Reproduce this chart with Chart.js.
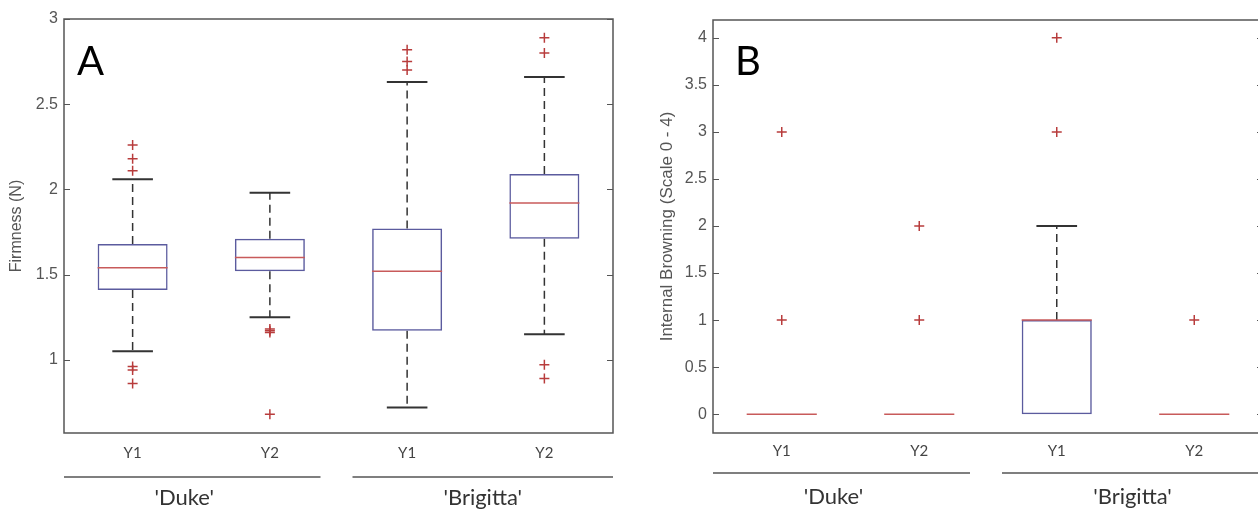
<!DOCTYPE html>
<html lang="en">
<head>
<meta charset="UTF-8">
<script src="https://cdn.jsdelivr.net/npm/chart.js"></script>
<title>Firmness and internal browning</title>
<style>
    html, body { margin: 0; padding: 0; background: #fff; overflow: hidden; }
    .panel { position: absolute; top: 0; width: 640px; height: 511px; }
    #panelA { left: 0; }
    #panelB { left: 640px; }
</style>
</head>
<body>
<div class="panel" id="panelA"><canvas id="chartA"></canvas></div>
<div class="panel" id="panelB"><canvas id="chartB"></canvas></div>
<script>
    const categories = ['Duke Y1', 'Duke Y2', 'Brigitta Y1', 'Brigitta Y2'];
    const yearLabels = ['Y1', 'Y2', 'Y1', 'Y2'];
    const cultivars = ["'Duke'", "'Brigitta'"];

    // A: firmness (N)
    const firmQ1 = [1.41, 1.52, 1.17, 1.71];
    const firmMedian = [1.54, 1.60, 1.52, 1.92];
    const firmQ3 = [1.68, 1.71, 1.77, 2.09];
    const firmLow = [1.05, 1.25, 0.72, 1.15];
    const firmHigh = [2.06, 1.98, 2.63, 2.66];
    const firmOutliers = [
        [2.26, 2.18, 2.11, 0.96, 0.94, 0.86],
        [1.18, 1.17, 1.16, 0.68],
        [2.82, 2.75, 2.70],
        [2.89, 2.80, 0.97, 0.89]
    ];
    const firmTicks = [1, 1.5, 2, 2.5, 3];

    // B: internal browning (scale 0 - 4)
    const brownQ1 = [0, 0, 0, 0];
    const brownMedian = [0, 0, 1, 0];
    const brownQ3 = [0, 0, 1, 0];
    const brownLow = [0, 0, 0, 0];
    const brownHigh = [0, 0, 2, 0];
    const brownOutliers = [[3, 1], [2, 1], [4, 3], [1]];
    const brownTicks = [0, 0.5, 1, 1.5, 2, 2.5, 3, 3.5, 4];

    const boxColor = '#5b5b9e';
    const medianColor = '#c85a5a';
    const outlierColor = '#b83c3c';
    const whiskerColor = '#333';
    const axisColor = '#555';

    function boxChart(id, s) {
        const outliers = [];
        s.outliers.forEach((vals, i) => vals.forEach(v => outliers.push({ x: categories[i], y: v })));

        const boxParts = {
            id: 'boxParts',
            beforeDatasetsDraw(chart) {
                const c = chart.ctx, x = chart.scales.x, y = chart.scales.y;
                const bars = chart.getDatasetMeta(0).data;
                c.save();
                categories.forEach((cat, i) => {
                    const px = x.getPixelForValue(i);
                    const half = bars[i].width * 0.29;
                    const ends = [];
                    c.strokeStyle = whiskerColor;
                    c.lineWidth = 1.5;
                    c.setLineDash([8, 5]);
                    c.beginPath();
                    if (s.high[i] > s.q3[i]) {
                        c.moveTo(px, y.getPixelForValue(s.q3[i]));
                        c.lineTo(px, y.getPixelForValue(s.high[i]));
                        ends.push(s.high[i]);
                    }
                    if (s.low[i] < s.q1[i]) {
                        c.moveTo(px, y.getPixelForValue(s.q1[i]));
                        c.lineTo(px, y.getPixelForValue(s.low[i]));
                        ends.push(s.low[i]);
                    }
                    c.stroke();
                    // whisker caps (hidden under the box when the whisker has no length)
                    c.setLineDash([]);
                    c.lineWidth = 2;
                    c.beginPath();
                    ends.forEach(v => {
                        const py = y.getPixelForValue(v);
                        c.moveTo(px - half, py);
                        c.lineTo(px + half, py);
                    });
                    c.stroke();
                });
                c.restore();
            },
            afterDatasetsDraw(chart) {
                const c = chart.ctx, x = chart.scales.x, y = chart.scales.y;
                const bars = chart.getDatasetMeta(0).data;
                c.save();
                c.strokeStyle = medianColor;
                c.lineWidth = 1.5;
                categories.forEach((cat, i) => {
                    const px = x.getPixelForValue(i);
                    const half = bars[i].width / 2;
                    const py = y.getPixelForValue(s.median[i]);
                    c.beginPath();
                    c.moveTo(px - half, py);
                    c.lineTo(px + half, py);
                    c.stroke();
                });
                c.restore();
            },
            afterDraw(chart) {
                const c = chart.ctx, x = chart.scales.x, y = chart.scales.y;
                const a = chart.chartArea;
                c.save();
                // frame and inward ticks
                c.strokeStyle = axisColor;
                c.lineWidth = 1.5;
                c.strokeRect(a.left, a.top, a.right - a.left, a.bottom - a.top);
                c.lineWidth = 1.2;
                c.beginPath();
                y.ticks.forEach(t => {
                    const py = Math.round(y.getPixelForValue(t.value)) + 0.5;
                    c.moveTo(a.left, py); c.lineTo(a.left + 6, py);
                    c.moveTo(a.right - 6, py); c.lineTo(a.right, py);
                });
                c.stroke();

                // cultivar lines and names
                const mid = (x.getPixelForValue(1) + x.getPixelForValue(2)) / 2;
                const spans = [[a.left, mid - 18], [mid + 14, a.right]];
                c.strokeStyle = '#555';
                c.lineWidth = 1.5;
                c.fillStyle = '#333';
                c.font = '22px Lato';
                c.textAlign = 'center';
                c.textBaseline = 'middle';
                spans.forEach((sp, g) => {
                    const ly = a.bottom + s.groupLine;
                    c.beginPath();
                    c.moveTo(sp[0], ly); c.lineTo(sp[1], ly);
                    c.stroke();
                    const shift = g === 0 ? -8 : 0;
                    c.fillText(cultivars[g], (sp[0] + sp[1]) / 2 + shift, a.bottom + s.groupText);
                });

                // panel letter
                c.fillStyle = '#000';
                c.font = '40px Lato';
                c.textAlign = 'left';
                c.textBaseline = 'alphabetic';
                c.fillText(s.letter, a.left + s.letterX, a.top + s.letterY);
                c.restore();
            }
        };

        return new Chart(document.getElementById(id), {
            type: 'bar',
            data: {
                labels: categories,
                datasets: [{
                    label: 'Box',
                    data: s.q1.map((v, i) => [v, s.q3[i]]),
                    backgroundColor: 'rgba(0,0,0,0)',
                    borderColor: boxColor,
                    borderWidth: 1.5,
                    borderSkipped: false,
                    barPercentage: 0.51,
                    categoryPercentage: 1
                }, {
                    type: 'scatter',
                    label: 'Outliers',
                    data: outliers,
                    pointStyle: 'cross',
                    pointRadius: 5,
                    borderColor: outlierColor,
                    borderWidth: 1.5
                }]
            },
            options: {
                responsive: true,
                maintainAspectRatio: false,
                animation: false,
                layout: { padding: s.padding },
                plugins: { legend: { display: false }, tooltip: { enabled: false } },
                scales: {
                    x: {
                        type: 'category',
                        offset: true,
                        grid: { display: false, drawTicks: false },
                        border: { display: false },
                        ticks: {
                            padding: s.xTickPad,
                            color: '#444',
                            font: { family: 'Lato', size: 15 },
                            callback: (v, i) => yearLabels[i]
                        },
                        afterFit: scale => { scale.height = s.xHeight; }
                    },
                    y: {
                        min: s.min,
                        max: s.max,
                        grid: { display: false, drawTicks: false },
                        border: { display: false },
                        afterBuildTicks: scale => { scale.ticks = s.ticks.map(v => ({ value: v })); },
                        ticks: {
                            padding: 6,
                            color: axisColor,
                            font: { family: 'Liberation Sans', size: 16 },
                            callback: v => String(v)
                        },
                        title: {
                            display: true,
                            text: s.title,
                            color: axisColor,
                            padding: { top: s.titlePad, bottom: 0 },
                            font: { family: 'Liberation Sans', size: s.titleSize }
                        },
                        afterFit: scale => { scale.width = s.yWidth; }
                    }
                }
            },
            plugins: [boxParts]
        });
    }

    boxChart('chartA', {
        q1: firmQ1, median: firmMedian, q3: firmQ3, low: firmLow, high: firmHigh,
        outliers: firmOutliers, ticks: firmTicks, min: 0.57, max: 3,
        title: 'Firmness (N)', letter: 'A', titleSize: 16,
        padding: { left: 0, top: 19, right: 27, bottom: 0 },
        yWidth: 64, xHeight: 78, xTickPad: 11, titlePad: 7,
        groupLine: 44, groupText: 65, letterX: 13, letterY: 56
    });

    boxChart('chartB', {
        q1: brownQ1, median: brownMedian, q3: brownQ3, low: brownLow, high: brownHigh,
        outliers: brownOutliers, ticks: brownTicks, min: -0.2, max: 4.19,
        title: 'Internal Browning (Scale 0 - 4)', letter: 'B', titleSize: 17,
        padding: { left: 0, top: 20, right: 17, bottom: 0 },
        yWidth: 73, xHeight: 78, xTickPad: 9, titlePad: 17,
        groupLine: 40, groupText: 64, letterX: 22, letterY: 55
    });
</script>
</body>
</html>
